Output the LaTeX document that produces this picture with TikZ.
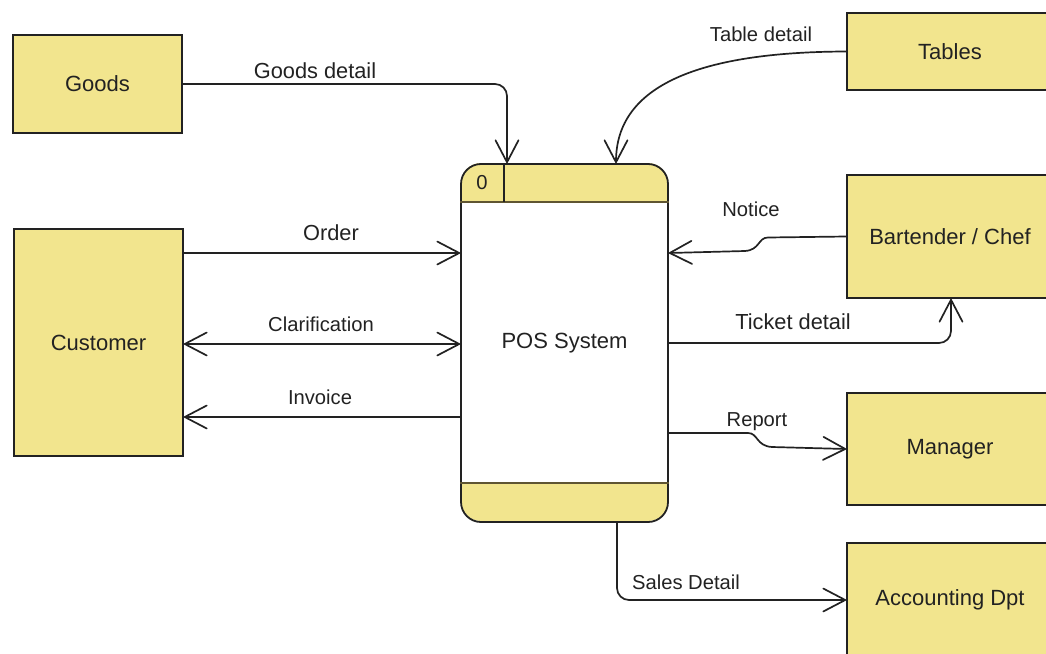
\documentclass[tikz,border=0pt]{standalone}
\usepackage{fontspec}
\setmainfont{Liberation Sans}
\usetikzlibrary{arrows.meta}
\definecolor{boxfill}{RGB}{242,229,142}
\definecolor{ink}{RGB}{34,34,34}
\definecolor{bandline}{RGB}{95,85,50}
\begin{document}
\begin{tikzpicture}[x=1pt,y=-1pt,
  ent/.style={draw=ink, fill=boxfill, line width=1.8pt, text=ink,
    font=\fontsize{22}{26}\selectfont, inner sep=0pt},
  elbl/.style={text=ink, font=\fontsize{20.2}{24}\selectfont, inner sep=0pt},
  elblL/.style={text=ink, font=\fontsize{21.8}{26}\selectfont, inner sep=0pt},
  flow/.style={draw=ink, line width=1.7pt, -{Straight Barb[length=22pt,width=23pt,round]}},
  flow2/.style={draw=ink, line width=1.7pt, {Straight Barb[length=22pt,width=23pt,round]}-{Straight Barb[length=22pt,width=23pt,round]}},
]
\useasboundingbox (0,0) rectangle (1046,653);
\clip (0,0) rectangle (1046,653);

% helper coordinates
\coordinate (yOrder) at (0,253);
\coordinate (yClar) at (0,344);
\coordinate (yInv) at (0,417);
\coordinate (yNot) at (0,253);
\coordinate (yTick) at (0,343);
\coordinate (yRep) at (0,433);
\coordinate (yHead) at (0,202);
\coordinate (yFoot) at (0,483);
\coordinate (xGoods) at (507,0);
\coordinate (xTab) at (616,0);
\coordinate (xTick) at (951,0);
\coordinate (xSales) at (617,0);
\coordinate (xDiv) at (504,0);

% external entities
\node[ent, minimum width=169pt, minimum height=98pt] (goods) at (97.5,84) {Goods};
\node[ent, minimum width=169pt, minimum height=227pt] (cust) at (98.5,342.5) {Customer};
\node[ent, minimum width=206pt, minimum height=77pt] (tables) at (950,51.5) {Tables};
\node[ent, minimum width=206pt, minimum height=123pt] (bart) at (950,236.5) {Bartender / Chef};
\node[ent, minimum width=206pt, minimum height=112pt] (manager) at (950,449) {Manager};
\node[ent, minimum width=206pt, minimum height=114pt] (acct) at (950,600) {Accounting Dpt};

% process
\begin{scope}
  \clip[rounded corners=20pt] (461,163) rectangle (668,521);
  \fill[boxfill] (461,163) rectangle (668,202);
  \fill[boxfill] (461,483) rectangle (668,521);
\end{scope}
\node[draw=ink, line width=1.8pt, rounded corners=20pt, minimum width=207pt,
  minimum height=358pt, inner sep=0pt, text=ink, font=\fontsize{22}{26}\selectfont]
  (pos) at (564.5,343) {POS System};
\draw[bandline, line width=1.8pt] (pos.west |- yHead) -- (pos.east |- yHead);
\draw[bandline, line width=1.8pt] (pos.west |- yFoot) -- (pos.east |- yFoot);
\draw[ink, line width=1.8pt] (pos.north -| xDiv) -- (yHead -| xDiv);
\node[elbl] (pid) at (482,183) {0};

% flows
\draw[flow, rounded corners=12pt] (goods.east) -| (pos.north -| xGoods);
\draw[flow] (tables.west) .. controls (700,52) and (616,85) .. (pos.north -| xTab);
\draw[flow] (bart.west) -- (768,237.5) .. controls (758,237.5) and (760,250) .. (745,251) -- (pos.east |- yNot);
\draw[flow, rounded corners=12pt] (pos.east |- yTick) -| (bart.south -| xTick);
\draw[flow] (pos.east |- yRep) -- (748,433) .. controls (758,433) and (756,446) .. (772,447) -- (manager.west);
\draw[flow, rounded corners=12pt] (pos.south -| xSales) |- (acct.west);
\draw[flow] (cust.east |- yOrder) -- (pos.west |- yOrder);
\draw[flow2] (cust.east |- yClar) -- (pos.west |- yClar);
\draw[flow] (pos.west |- yInv) -- (cust.east |- yInv);

% flow labels
\node[elblL] (lgoods) at (315,71) {Goods detail};
\node[elbl] (ltab) at (761,34) {Table detail};
\node[elblL] (lorder) at (331,233) {Order};
\node[elbl] (lclar) at (321,324) {Clarification};
\node[elbl] (linv) at (320,397) {Invoice};
\node[elbl] (lnot) at (751,209) {Notice};
\node[elblL] (ltick) at (793,322) {Ticket detail};
\node[elbl] (lrep) at (757,422) {Report};
\node[elbl] (lsales) at (686,582) {Sales Detail};
\end{tikzpicture}
\end{document}
